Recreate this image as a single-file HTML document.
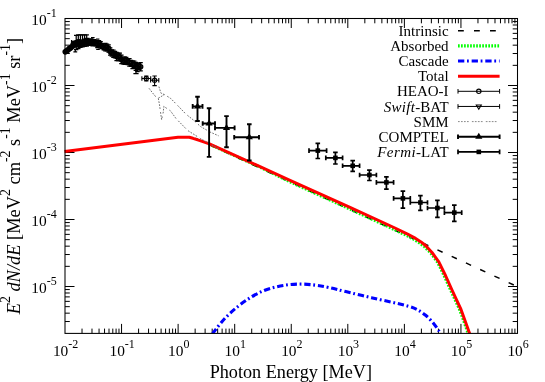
<!DOCTYPE html>
<html><head><meta charset="utf-8"><title>SED</title>
<style>
html,body{margin:0;padding:0;background:#fff;}
body{width:545px;height:382px;overflow:hidden;}
svg{display:block;will-change:transform;}
text{font-family:"Liberation Serif", serif;fill:#000;}
</style></head><body>
<svg width="545" height="382" viewBox="0 0 545 382">
<rect x="0" y="0" width="545" height="382" fill="#fff"/>

<defs><clipPath id="c"><rect x="62.0" y="18.5" width="455.5" height="314.9"/></clipPath></defs>
<path d="M82.03 333.4v-4.8M82.03 18.5v4.8M91.99 333.4v-4.8M91.99 18.5v4.8M99.05 333.4v-4.8M99.05 18.5v4.8M104.54 333.4v-4.8M104.54 18.5v4.8M109.01 333.4v-4.8M109.01 18.5v4.8M112.80 333.4v-4.8M112.80 18.5v4.8M116.08 333.4v-4.8M116.08 18.5v4.8M118.97 333.4v-4.8M118.97 18.5v4.8M121.56 333.4v-9.5M121.56 18.5v9.5M138.59 333.4v-4.8M138.59 18.5v4.8M148.55 333.4v-4.8M148.55 18.5v4.8M155.62 333.4v-4.8M155.62 18.5v4.8M161.10 333.4v-4.8M161.10 18.5v4.8M165.58 333.4v-4.8M165.58 18.5v4.8M169.36 333.4v-4.8M169.36 18.5v4.8M172.64 333.4v-4.8M172.64 18.5v4.8M175.54 333.4v-4.8M175.54 18.5v4.8M178.12 333.4v-9.5M178.12 18.5v9.5M195.15 333.4v-4.8M195.15 18.5v4.8M205.11 333.4v-4.8M205.11 18.5v4.8M212.18 333.4v-4.8M212.18 18.5v4.8M217.66 333.4v-4.8M217.66 18.5v4.8M222.14 333.4v-4.8M222.14 18.5v4.8M225.93 333.4v-4.8M225.93 18.5v4.8M229.21 333.4v-4.8M229.21 18.5v4.8M232.10 333.4v-4.8M232.10 18.5v4.8M234.69 333.4v-9.5M234.69 18.5v9.5M251.71 333.4v-4.8M251.71 18.5v4.8M261.67 333.4v-4.8M261.67 18.5v4.8M268.74 333.4v-4.8M268.74 18.5v4.8M274.22 333.4v-4.8M274.22 18.5v4.8M278.70 333.4v-4.8M278.70 18.5v4.8M282.49 333.4v-4.8M282.49 18.5v4.8M285.77 333.4v-4.8M285.77 18.5v4.8M288.66 333.4v-4.8M288.66 18.5v4.8M291.25 333.4v-9.5M291.25 18.5v9.5M308.28 333.4v-4.8M308.28 18.5v4.8M318.24 333.4v-4.8M318.24 18.5v4.8M325.30 333.4v-4.8M325.30 18.5v4.8M330.79 333.4v-4.8M330.79 18.5v4.8M335.26 333.4v-4.8M335.26 18.5v4.8M339.05 333.4v-4.8M339.05 18.5v4.8M342.33 333.4v-4.8M342.33 18.5v4.8M345.22 333.4v-4.8M345.22 18.5v4.8M347.81 333.4v-9.5M347.81 18.5v9.5M364.84 333.4v-4.8M364.84 18.5v4.8M374.80 333.4v-4.8M374.80 18.5v4.8M381.87 333.4v-4.8M381.87 18.5v4.8M387.35 333.4v-4.8M387.35 18.5v4.8M391.83 333.4v-4.8M391.83 18.5v4.8M395.61 333.4v-4.8M395.61 18.5v4.8M398.89 333.4v-4.8M398.89 18.5v4.8M401.79 333.4v-4.8M401.79 18.5v4.8M404.38 333.4v-9.5M404.38 18.5v9.5M421.40 333.4v-4.8M421.40 18.5v4.8M431.36 333.4v-4.8M431.36 18.5v4.8M438.43 333.4v-4.8M438.43 18.5v4.8M443.91 333.4v-4.8M443.91 18.5v4.8M448.39 333.4v-4.8M448.39 18.5v4.8M452.18 333.4v-4.8M452.18 18.5v4.8M455.46 333.4v-4.8M455.46 18.5v4.8M458.35 333.4v-4.8M458.35 18.5v4.8M460.94 333.4v-9.5M460.94 18.5v9.5M477.96 333.4v-4.8M477.96 18.5v4.8M487.92 333.4v-4.8M487.92 18.5v4.8M494.99 333.4v-4.8M494.99 18.5v4.8M500.47 333.4v-4.8M500.47 18.5v4.8M504.95 333.4v-4.8M504.95 18.5v4.8M508.74 333.4v-4.8M508.74 18.5v4.8M512.02 333.4v-4.8M512.02 18.5v4.8M514.91 333.4v-4.8M514.91 18.5v4.8M65.0 321.53h4.8M517.5 321.53h-4.8M65.0 313.16h4.8M517.5 313.16h-4.8M65.0 306.67h4.8M517.5 306.67h-4.8M65.0 301.36h4.8M517.5 301.36h-4.8M65.0 296.88h4.8M517.5 296.88h-4.8M65.0 292.99h4.8M517.5 292.99h-4.8M65.0 289.57h4.8M517.5 289.57h-4.8M65.0 286.50h9.5M517.5 286.50h-9.5M65.0 266.33h4.8M517.5 266.33h-4.8M65.0 254.53h4.8M517.5 254.53h-4.8M65.0 246.16h4.8M517.5 246.16h-4.8M65.0 239.67h4.8M517.5 239.67h-4.8M65.0 234.36h4.8M517.5 234.36h-4.8M65.0 229.88h4.8M517.5 229.88h-4.8M65.0 225.99h4.8M517.5 225.99h-4.8M65.0 222.57h4.8M517.5 222.57h-4.8M65.0 219.50h9.5M517.5 219.50h-9.5M65.0 199.33h4.8M517.5 199.33h-4.8M65.0 187.53h4.8M517.5 187.53h-4.8M65.0 179.16h4.8M517.5 179.16h-4.8M65.0 172.67h4.8M517.5 172.67h-4.8M65.0 167.36h4.8M517.5 167.36h-4.8M65.0 162.88h4.8M517.5 162.88h-4.8M65.0 158.99h4.8M517.5 158.99h-4.8M65.0 155.57h4.8M517.5 155.57h-4.8M65.0 152.50h9.5M517.5 152.50h-9.5M65.0 132.33h4.8M517.5 132.33h-4.8M65.0 120.53h4.8M517.5 120.53h-4.8M65.0 112.16h4.8M517.5 112.16h-4.8M65.0 105.67h4.8M517.5 105.67h-4.8M65.0 100.36h4.8M517.5 100.36h-4.8M65.0 95.88h4.8M517.5 95.88h-4.8M65.0 91.99h4.8M517.5 91.99h-4.8M65.0 88.57h4.8M517.5 88.57h-4.8M65.0 85.50h9.5M517.5 85.50h-9.5M65.0 65.33h4.8M517.5 65.33h-4.8M65.0 53.53h4.8M517.5 53.53h-4.8M65.0 45.16h4.8M517.5 45.16h-4.8M65.0 38.67h4.8M517.5 38.67h-4.8M65.0 33.36h4.8M517.5 33.36h-4.8M65.0 28.88h4.8M517.5 28.88h-4.8M65.0 24.99h4.8M517.5 24.99h-4.8M65.0 21.57h4.8M517.5 21.57h-4.8" stroke="#000" stroke-width="1.0" fill="none"/>
<g clip-path="url(#c)">
<path d="M195.33 138.28L517.5 286.70" stroke="#000" stroke-width="1.5" fill="none" stroke-dasharray="5.7 9.98"/>
<polyline points="209.24,144.26 259.78,167.08 289.46,181.59 349.30,208.85 394.28,229.54 406.23,235.32 414.75,239.87 420.01,243.28 424.62,246.92 430.95,253.35 437.64,262.48 444.28,276.07 450.77,290.56 459.75,310.01 468.53,334.46" fill="none" stroke="#00ff00" stroke-width="3" stroke-dasharray="1.8 1.5"/>
<path d="M213.20 334.00C213.35 333.60 212.02 334.35 214.10 331.60C216.18 328.85 221.63 321.77 225.70 317.50C229.77 313.23 234.22 309.42 238.50 306.00C242.78 302.58 247.12 299.58 251.40 297.00C255.68 294.42 259.93 292.22 264.20 290.50C268.47 288.78 272.72 287.68 277.00 286.70C281.28 285.72 285.62 285.03 289.90 284.60C294.18 284.17 298.42 284.00 302.70 284.10C306.98 284.20 311.32 284.65 315.60 285.20C319.88 285.75 323.38 286.33 328.40 287.40C333.42 288.47 338.53 289.88 345.70 291.60C352.87 293.32 362.85 295.73 371.40 297.70C379.95 299.67 390.58 301.90 397.00 303.40C403.42 304.90 406.47 305.63 409.90 306.70C413.33 307.77 415.03 308.42 417.60 309.80C420.17 311.18 422.73 312.85 425.30 315.00C427.87 317.15 430.65 319.93 433.00 322.70C435.35 325.47 438.07 329.72 439.40 331.60C440.73 333.48 440.73 333.60 441.00 334.00" fill="none" stroke="#0000ff" stroke-width="3.1" stroke-dasharray="6.3 2.7 1.8 2.85"/>
<polyline points="64.50,151.60 178.00,137.20 189.30,137.30 193.00,138.30 200.00,140.70 209.40,143.90 260.00,166.60 290.00,180.40 350.00,207.30 395.00,228.00 407.00,233.80 415.60,238.40 421.00,241.90 425.80,245.70 432.00,252.50 438.80,261.80 445.50,275.50 452.00,290.00 461.00,309.50 469.80,334.00" fill="none" stroke="#ff0000" stroke-width="3.0" stroke-linejoin="round"/>
<polyline points="149,88.3 155,96 158.3,98.2 159.4,104.2 160.5,112 161.6,119.6 163.3,112 163.8,106.4 167.1,108.6 170.4,110.8 176,118.5 187.7,130.5 200.5,138.5 210,144 219.5,149.2" fill="none" stroke="#707070" stroke-width="1" stroke-dasharray="1.7 1.3 1.7 1.3 1.7 1.3 1.7 3.2"/>
<polyline points="158.9,86.6 161,93.2 164.4,94.6 170.4,98.2 177,104.8 185.9,114.1 193.6,120.2 200.5,126.5 210,132 218.6,135.8" fill="none" stroke="#707070" stroke-width="1" stroke-dasharray="1.7 1.3 1.7 1.3 1.7 1.3 1.7 3.2"/>
<polyline points="158.3,98.2 164.4,94.6" fill="none" stroke="#707070" stroke-width="1" stroke-dasharray="1.7 1.3 1.7 1.3 1.7 1.3 1.7 3.2"/>
</g>
<g fill="none" stroke="#000" stroke-width="1.25"><polyline points="65.1,52.0 66.5,51.0 68,49.9 71,47.5 74,45.4" stroke-width="4.6" stroke-linecap="round" stroke-linejoin="round"/><polyline points="74,45.4 76.5,44.1 79.5,43.0 82,42.6 87.5,42.2 93,42.7 98.5,44.0 104,46.3 109.4,50.2 115,54.4 118.3,57.0 122,59.4 127.5,62.6" stroke-width="2.0" stroke-linecap="round" stroke-linejoin="round"/><polyline points="127.5,62.6 132,64.8 136.7,66.6 141.2,67.2" stroke-width="1.5" stroke-linecap="round" stroke-linejoin="round"/><circle cx="65.30" cy="51.75" r="2.2"/><circle cx="66.60" cy="50.72" r="2.2"/><circle cx="67.90" cy="50.06" r="2.2"/><circle cx="69.20" cy="48.68" r="2.2"/><circle cx="70.50" cy="47.92" r="2.2"/><circle cx="71.80" cy="46.86" r="2.2"/><circle cx="73.10" cy="44.88" r="2.2"/><path d="M73.10 42.07V47.69M70.90 42.07h4.4M70.90 47.69h4.4"/><circle cx="74.40" cy="43.99" r="2.2"/><path d="M74.40 41.27V46.71M72.20 41.27h4.4M72.20 46.71h4.4"/><circle cx="75.70" cy="43.40" r="2.2"/><path d="M75.70 41.09V45.71M73.50 41.09h4.4M73.50 45.71h4.4"/><circle cx="77.00" cy="43.72" r="2.2"/><path d="M77.00 40.53V46.91M74.80 40.53h4.4M74.80 46.91h4.4"/><circle cx="78.30" cy="42.46" r="2.2"/><path d="M78.30 39.99V44.93M76.10 39.99h4.4M76.10 44.93h4.4"/><circle cx="79.60" cy="43.32" r="2.2"/><path d="M79.60 39.98V46.65M77.40 39.98h4.4M77.40 46.65h4.4"/><circle cx="80.90" cy="42.98" r="2.2"/><path d="M80.90 40.30V45.65M78.70 40.30h4.4M78.70 45.65h4.4"/><circle cx="82.20" cy="43.82" r="2.2"/><path d="M82.20 41.57V46.08M80.00 41.57h4.4M80.00 46.08h4.4"/><circle cx="83.50" cy="43.42" r="2.2"/><path d="M83.50 40.88V45.97M81.30 40.88h4.4M81.30 45.97h4.4"/><circle cx="84.80" cy="41.47" r="2.2"/><path d="M84.80 39.13V43.81M82.60 39.13h4.4M82.60 43.81h4.4"/><circle cx="86.10" cy="41.80" r="2.2"/><path d="M86.10 38.62V44.98M83.90 38.62h4.4M83.90 44.98h4.4"/><circle cx="87.40" cy="41.38" r="2.2"/><path d="M87.40 38.48V44.28M85.20 38.48h4.4M85.20 44.28h4.4"/><circle cx="88.70" cy="42.67" r="2.2"/><path d="M88.70 40.02V45.32M86.50 40.02h4.4M86.50 45.32h4.4"/><circle cx="90.00" cy="42.55" r="2.2"/><path d="M90.00 40.28V44.83M87.80 40.28h4.4M87.80 44.83h4.4"/><circle cx="91.30" cy="41.40" r="2.2"/><path d="M91.30 38.95V43.85M89.10 38.95h4.4M89.10 43.85h4.4"/><circle cx="92.60" cy="43.13" r="2.2"/><path d="M92.60 40.42V45.85M90.40 40.42h4.4M90.40 45.85h4.4"/><circle cx="94.20" cy="42.50" r="2.2"/><path d="M94.20 39.60V45.40M92.00 39.60h4.4M92.00 45.40h4.4"/><circle cx="95.80" cy="43.24" r="2.2"/><path d="M95.80 40.68V45.80M93.60 40.68h4.4M93.60 45.80h4.4"/><circle cx="97.40" cy="44.51" r="2.2"/><path d="M97.40 41.47V47.54M95.20 41.47h4.4M95.20 47.54h4.4"/><circle cx="99.00" cy="43.54" r="2.2"/><path d="M99.00 40.65V46.43M96.80 40.65h4.4M96.80 46.43h4.4"/><circle cx="100.60" cy="44.94" r="2.2"/><path d="M100.60 41.69V48.19M98.40 41.69h4.4M98.40 48.19h4.4"/><circle cx="102.20" cy="46.14" r="2.2"/><path d="M102.20 43.60V48.69M100.00 43.60h4.4M100.00 48.69h4.4"/><circle cx="103.80" cy="47.46" r="2.2"/><path d="M103.80 45.12V49.81M101.60 45.12h4.4M101.60 49.81h4.4"/><circle cx="105.40" cy="47.10" r="2.2"/><path d="M105.40 43.29V50.91M103.20 43.29h4.4M103.20 50.91h4.4"/><circle cx="107.00" cy="47.56" r="2.2"/><path d="M107.00 44.18V50.94M104.80 44.18h4.4M104.80 50.94h4.4"/><circle cx="108.60" cy="48.42" r="2.2"/><path d="M108.60 44.76V52.09M106.40 44.76h4.4M106.40 52.09h4.4"/><circle cx="110.20" cy="51.49" r="2.2"/><path d="M110.20 47.97V55.00M108.00 47.97h4.4M108.00 55.00h4.4"/><circle cx="111.80" cy="52.98" r="2.2"/><path d="M111.80 49.87V56.08M109.60 49.87h4.4M109.60 56.08h4.4"/><circle cx="113.40" cy="53.71" r="2.2"/><path d="M113.40 50.16V57.26M111.20 50.16h4.4M111.20 57.26h4.4"/><circle cx="115.00" cy="54.61" r="2.2"/><path d="M115.00 51.28V57.94M112.80 51.28h4.4M112.80 57.94h4.4"/><circle cx="116.60" cy="56.54" r="2.2"/><path d="M116.60 52.43V60.66M114.40 52.43h4.4M114.40 60.66h4.4"/><circle cx="118.20" cy="56.85" r="2.2"/><path d="M118.20 53.19V60.52M116.00 53.19h4.4M116.00 60.52h4.4"/><circle cx="119.80" cy="56.83" r="2.2"/><path d="M119.80 53.11V60.55M117.60 53.11h4.4M117.60 60.55h4.4"/><circle cx="121.40" cy="59.39" r="2.2"/><path d="M121.40 55.20V63.58M119.20 55.20h4.4M119.20 63.58h4.4"/><circle cx="123.00" cy="60.82" r="2.2"/><path d="M123.00 57.76V63.87M120.80 57.76h4.4M120.80 63.87h4.4"/><circle cx="124.60" cy="60.62" r="2.2"/><path d="M124.60 56.95V64.29M122.40 56.95h4.4M122.40 64.29h4.4"/><circle cx="126.20" cy="60.60" r="2.2"/><path d="M126.20 57.26V63.94M124.00 57.26h4.4M124.00 63.94h4.4"/><circle cx="127.80" cy="61.88" r="2.2"/><path d="M127.80 59.10V64.67M125.60 59.10h4.4M125.60 64.67h4.4"/><circle cx="129.40" cy="62.38" r="2.2"/><path d="M129.40 58.55V66.21M127.20 58.55h4.4M127.20 66.21h4.4"/><circle cx="131.00" cy="63.35" r="2.2"/><path d="M131.00 60.35V66.34M128.80 60.35h4.4M128.80 66.34h4.4"/><circle cx="132.60" cy="64.75" r="2.2"/><path d="M132.60 60.75V68.74M130.40 60.75h4.4M130.40 68.74h4.4"/><circle cx="134.20" cy="64.55" r="2.2"/><path d="M134.20 61.23V67.87M132.00 61.23h4.4M132.00 67.87h4.4"/><circle cx="135.80" cy="66.38" r="2.2"/><path d="M135.80 62.37V70.40M133.60 62.37h4.4M133.60 70.40h4.4"/><circle cx="137.40" cy="67.52" r="2.2"/><path d="M137.40 63.54V71.51M135.20 63.54h4.4M135.20 71.51h4.4"/><circle cx="139.00" cy="66.33" r="2.2"/><path d="M139.00 63.07V69.60M136.80 63.07h4.4M136.80 69.60h4.4"/><circle cx="140.60" cy="66.75" r="2.2"/><path d="M140.60 62.74V70.77M138.40 62.74h4.4M138.40 70.77h4.4"/><path d="M76.20 35.27V49.74M74.00 35.27h4.4M74.00 49.74h4.4M73.60 43.26h5.2"/><path d="M78.30 34.79V48.59M76.10 34.79h4.4M76.10 48.59h4.4M75.70 42.44h5.2"/><path d="M80.40 34.81V47.41M78.20 34.81h4.4M78.20 47.41h4.4M77.80 41.86h5.2"/><path d="M82.50 34.84V46.79M80.30 34.84h4.4M80.30 46.79h4.4M79.90 41.56h5.2"/><path d="M84.60 34.84V46.48M82.40 34.84h4.4M82.40 46.48h4.4M82.00 41.41h5.2"/><path d="M86.70 34.99V46.03M84.50 34.99h4.4M84.50 46.03h4.4M84.10 41.26h5.2"/><path d="M136 63.5V73.6M133.4 73.6h5.2"/><path d="M71.6 40.1v3.6M71.6 41.9h3.4M73.4 51.9h3.8M75.3 51.9v-3M99.8 49.3h-3.6M91 37.6h3.6M96 39.2h3.4"/></g>
<g fill="none" stroke="#000" stroke-width="1.1"><circle cx="146.3" cy="78.5" r="2.1"/><path d="M141.9 78.5h8.8M141.9 76.3v4.4M150.7 76.3v4.4M146.3 76.1v4.8M144.2 76.1h4.2M144.2 80.9h4.2"/><circle cx="154.6" cy="80.2" r="2.1"/><path d="M150.6 80.2h8.2M150.6 78v4.4M158.8 78v4.4M154.6 76v9.6M152.4 76h4.4M152.4 85.6h4.4"/></g>
<path d="M192.7 106.4H202.5M197.5 96.8V121.0M192.7 104.10000000000001v4.6M202.5 104.10000000000001v4.6M195.2 96.8h4.6M195.2 121.0h4.6" stroke="#000" stroke-width="1.9" fill="none"/><path d="M197.5 102.4l3.6 6h-7.2z" fill="#000"/><path d="M202.7 123.5H215M209.1 108.3V156.9M202.7 121.2v4.6M215 121.2v4.6M206.79999999999998 108.3h4.6M206.79999999999998 156.9h4.6" stroke="#000" stroke-width="1.9" fill="none"/><path d="M209.1 119.5l3.6 6h-7.2z" fill="#000"/><path d="M215 127.9H234.6M226.5 116.1V147.3M215 125.60000000000001v4.6M234.6 125.60000000000001v4.6M224.2 116.1h4.6M224.2 147.3h4.6" stroke="#000" stroke-width="1.9" fill="none"/><path d="M226.5 123.9l3.6 6h-7.2z" fill="#000"/><path d="M234.2 137.2H259M249.3 124.2V160.5M234.2 134.89999999999998v4.6M259 134.89999999999998v4.6M247.0 124.2h4.6M247.0 160.5h4.6" stroke="#000" stroke-width="1.9" fill="none"/><path d="M249.3 133.2l3.6 6h-7.2z" fill="#000"/>
<path d="M309 150.6H326.6M317.8 143.3V158.5M309 148.29999999999998v4.6M326.6 148.29999999999998v4.6M315.5 143.3h4.6M315.5 158.5h4.6" stroke="#000" stroke-width="1.7" fill="none"/><rect x="315.5" y="148.29999999999998" width="4.6" height="4.6" fill="#000"/><path d="M325.8 157.9H342.6M335.4 152.4V164M325.8 155.6v4.6M342.6 155.6v4.6M333.09999999999997 152.4h4.6M333.09999999999997 164h4.6" stroke="#000" stroke-width="1.7" fill="none"/><rect x="333.09999999999997" y="155.6" width="4.6" height="4.6" fill="#000"/><path d="M342.6 165.8H359.6M352.7 160.7V171.3M342.6 163.5v4.6M359.6 163.5v4.6M350.4 160.7h4.6M350.4 171.3h4.6" stroke="#000" stroke-width="1.7" fill="none"/><rect x="350.4" y="163.5" width="4.6" height="4.6" fill="#000"/><path d="M359.6 175H376.4M369.4 170.2V180.5M359.6 172.7v4.6M376.4 172.7v4.6M367.09999999999997 170.2h4.6M367.09999999999997 180.5h4.6" stroke="#000" stroke-width="1.7" fill="none"/><rect x="367.09999999999997" y="172.7" width="4.6" height="4.6" fill="#000"/><path d="M376.4 182.4H393.6M386.4 176.8V189.1M376.4 180.1v4.6M393.6 180.1v4.6M384.09999999999997 176.8h4.6M384.09999999999997 189.1h4.6" stroke="#000" stroke-width="1.7" fill="none"/><rect x="384.09999999999997" y="180.1" width="4.6" height="4.6" fill="#000"/><path d="M393.6 198.4H410.3M402.9 191.1V208.2M393.6 196.1v4.6M410.3 196.1v4.6M400.59999999999997 191.1h4.6M400.59999999999997 208.2h4.6" stroke="#000" stroke-width="1.7" fill="none"/><rect x="400.59999999999997" y="196.1" width="4.6" height="4.6" fill="#000"/><path d="M410.3 202.5H427.5M420.4 195.7V210.4M410.3 200.2v4.6M427.5 200.2v4.6M418.09999999999997 195.7h4.6M418.09999999999997 210.4h4.6" stroke="#000" stroke-width="1.7" fill="none"/><rect x="418.09999999999997" y="200.2" width="4.6" height="4.6" fill="#000"/><path d="M427.5 208H444.4M437.4 200.3V217.3M427.5 205.7v4.6M444.4 205.7v4.6M435.09999999999997 200.3h4.6M435.09999999999997 217.3h4.6" stroke="#000" stroke-width="1.7" fill="none"/><rect x="435.09999999999997" y="205.7" width="4.6" height="4.6" fill="#000"/><path d="M444.4 212.6H461.7M454.3 205.2V221.4M444.4 210.29999999999998v4.6M461.7 210.29999999999998v4.6M452.0 205.2h4.6M452.0 221.4h4.6" stroke="#000" stroke-width="1.7" fill="none"/><rect x="452.0" y="210.29999999999998" width="4.6" height="4.6" fill="#000"/>
<rect x="65.0" y="18.5" width="452.5" height="314.9" fill="none" stroke="#000" stroke-width="1.05"/>
<text x="65.60" y="355.9" font-size="15.4" text-anchor="middle">10<tspan dy="-7.9" font-size="12.0">-2</tspan></text>
<text x="122.16" y="355.9" font-size="15.4" text-anchor="middle">10<tspan dy="-7.9" font-size="12.0">-1</tspan></text>
<text x="178.72" y="355.9" font-size="15.4" text-anchor="middle">10<tspan dy="-7.9" font-size="12.0">0</tspan></text>
<text x="235.29" y="355.9" font-size="15.4" text-anchor="middle">10<tspan dy="-7.9" font-size="12.0">1</tspan></text>
<text x="291.85" y="355.9" font-size="15.4" text-anchor="middle">10<tspan dy="-7.9" font-size="12.0">2</tspan></text>
<text x="348.41" y="355.9" font-size="15.4" text-anchor="middle">10<tspan dy="-7.9" font-size="12.0">3</tspan></text>
<text x="404.98" y="355.9" font-size="15.4" text-anchor="middle">10<tspan dy="-7.9" font-size="12.0">4</tspan></text>
<text x="461.54" y="355.9" font-size="15.4" text-anchor="middle">10<tspan dy="-7.9" font-size="12.0">5</tspan></text>
<text x="518.10" y="355.9" font-size="15.4" text-anchor="middle">10<tspan dy="-7.9" font-size="12.0">6</tspan></text>
<text x="31.35" y="293.40" font-size="15.4">10<tspan dy="-8.4" font-size="12.0">-5</tspan></text>
<text x="31.35" y="226.40" font-size="15.4">10<tspan dy="-8.4" font-size="12.0">-4</tspan></text>
<text x="31.35" y="159.40" font-size="15.4">10<tspan dy="-8.4" font-size="12.0">-3</tspan></text>
<text x="31.35" y="92.40" font-size="15.4">10<tspan dy="-8.4" font-size="12.0">-2</tspan></text>
<text x="31.35" y="25.40" font-size="15.4">10<tspan dy="-8.4" font-size="12.0">-1</tspan></text>
<text x="290.8" y="377.6" font-size="18.2" text-anchor="middle">Photon Energy [MeV]</text>
<text transform="translate(19.6,176.1) rotate(-90)" font-size="18.4" text-anchor="middle"><tspan font-style="italic">E</tspan><tspan dy="-9.6" font-size="13.8">2</tspan><tspan dy="9.6" font-size="13.8">&#8203;</tspan> <tspan font-style="italic">dN/dE</tspan> [MeV<tspan dy="-9.6" font-size="13.8">2</tspan><tspan dy="9.6" font-size="13.8">&#8203;</tspan> cm<tspan dy="-9.6" font-size="13.8">-2</tspan><tspan dy="9.6" font-size="13.8">&#8203;</tspan> s<tspan dy="-9.6" font-size="13.8">-1</tspan><tspan dy="9.6" font-size="13.8">&#8203;</tspan> MeV<tspan dy="-9.6" font-size="13.8">-1</tspan><tspan dy="9.6" font-size="13.8">&#8203;</tspan> sr<tspan dy="-9.6" font-size="13.8">-1</tspan><tspan dy="9.6" font-size="13.8">&#8203;</tspan>]</text>
<text x="448.6" y="35.80" font-size="15.0" text-anchor="end">Intrinsic</text>
<text x="448.6" y="50.95" font-size="15.0" text-anchor="end">Absorbed</text>
<text x="448.6" y="66.10" font-size="15.0" text-anchor="end">Cascade</text>
<text x="448.6" y="81.25" font-size="15.0" text-anchor="end">Total</text>
<text x="448.6" y="96.40" font-size="15.0" text-anchor="end">HEAO-I</text>
<text x="448.6" y="111.55" font-size="15.0" text-anchor="end"><tspan font-style="italic" letter-spacing="0.3">Swift</tspan>-BAT</text>
<text x="448.6" y="126.70" font-size="15.0" text-anchor="end">SMM</text>
<text x="448.6" y="141.85" font-size="15.0" text-anchor="end">COMPTEL</text>
<text x="448.6" y="157.00" font-size="15.0" text-anchor="end"><tspan font-style="italic" letter-spacing="0.45">Fermi</tspan>-LAT</text>
<path d="M458.0 30.7H499.6" stroke="#000" stroke-width="1.5" stroke-dasharray="5.8 10.2"/>
<path d="M458.0 45.85H499.6" stroke="#00ff00" stroke-width="3.2" stroke-dasharray="1.7 1.33"/>
<path d="M458.0 61.0H499.6" stroke="#0000ff" stroke-width="3.1" stroke-dasharray="6.3 2.7 1.8 2.85"/>
<path d="M458.0 76.15H499.6" stroke="#ff0000" stroke-width="3.0"/>
<path d="M458.0 91.3H499.6M458.0 89.0v4.6M499.6 89.0v4.6" stroke="#000" stroke-width="1" fill="none"/><circle cx="478.8" cy="91.3" r="2.2" fill="none" stroke="#000" stroke-width="1.1"/>
<path d="M458.0 106.45H499.6M458.0 104.15v4.6M499.6 104.15v4.6" stroke="#000" stroke-width="1" fill="none"/><path d="M476.3 105.05h5l-2.5 4.2z" fill="none" stroke="#000" stroke-width="1.1"/>
<path d="M458.0 121.60000000000001H499.6" stroke="#888" stroke-width="1" stroke-dasharray="1.7 1.3 1.7 1.3 1.7 1.3 1.7 3.2"/>
<path d="M458.0 136.75H499.6M458.0 134.45v4.6M499.6 134.45v4.6" stroke="#000" stroke-width="1.9" fill="none"/><path d="M478.8 132.75l3.6 6h-7.2z" fill="#000"/>
<path d="M458.0 151.9H499.6M458.0 149.6v4.6M499.6 149.6v4.6" stroke="#000" stroke-width="1.7" fill="none"/><rect x="476.5" y="149.6" width="4.6" height="4.6" fill="#000"/>
</svg></body></html>
